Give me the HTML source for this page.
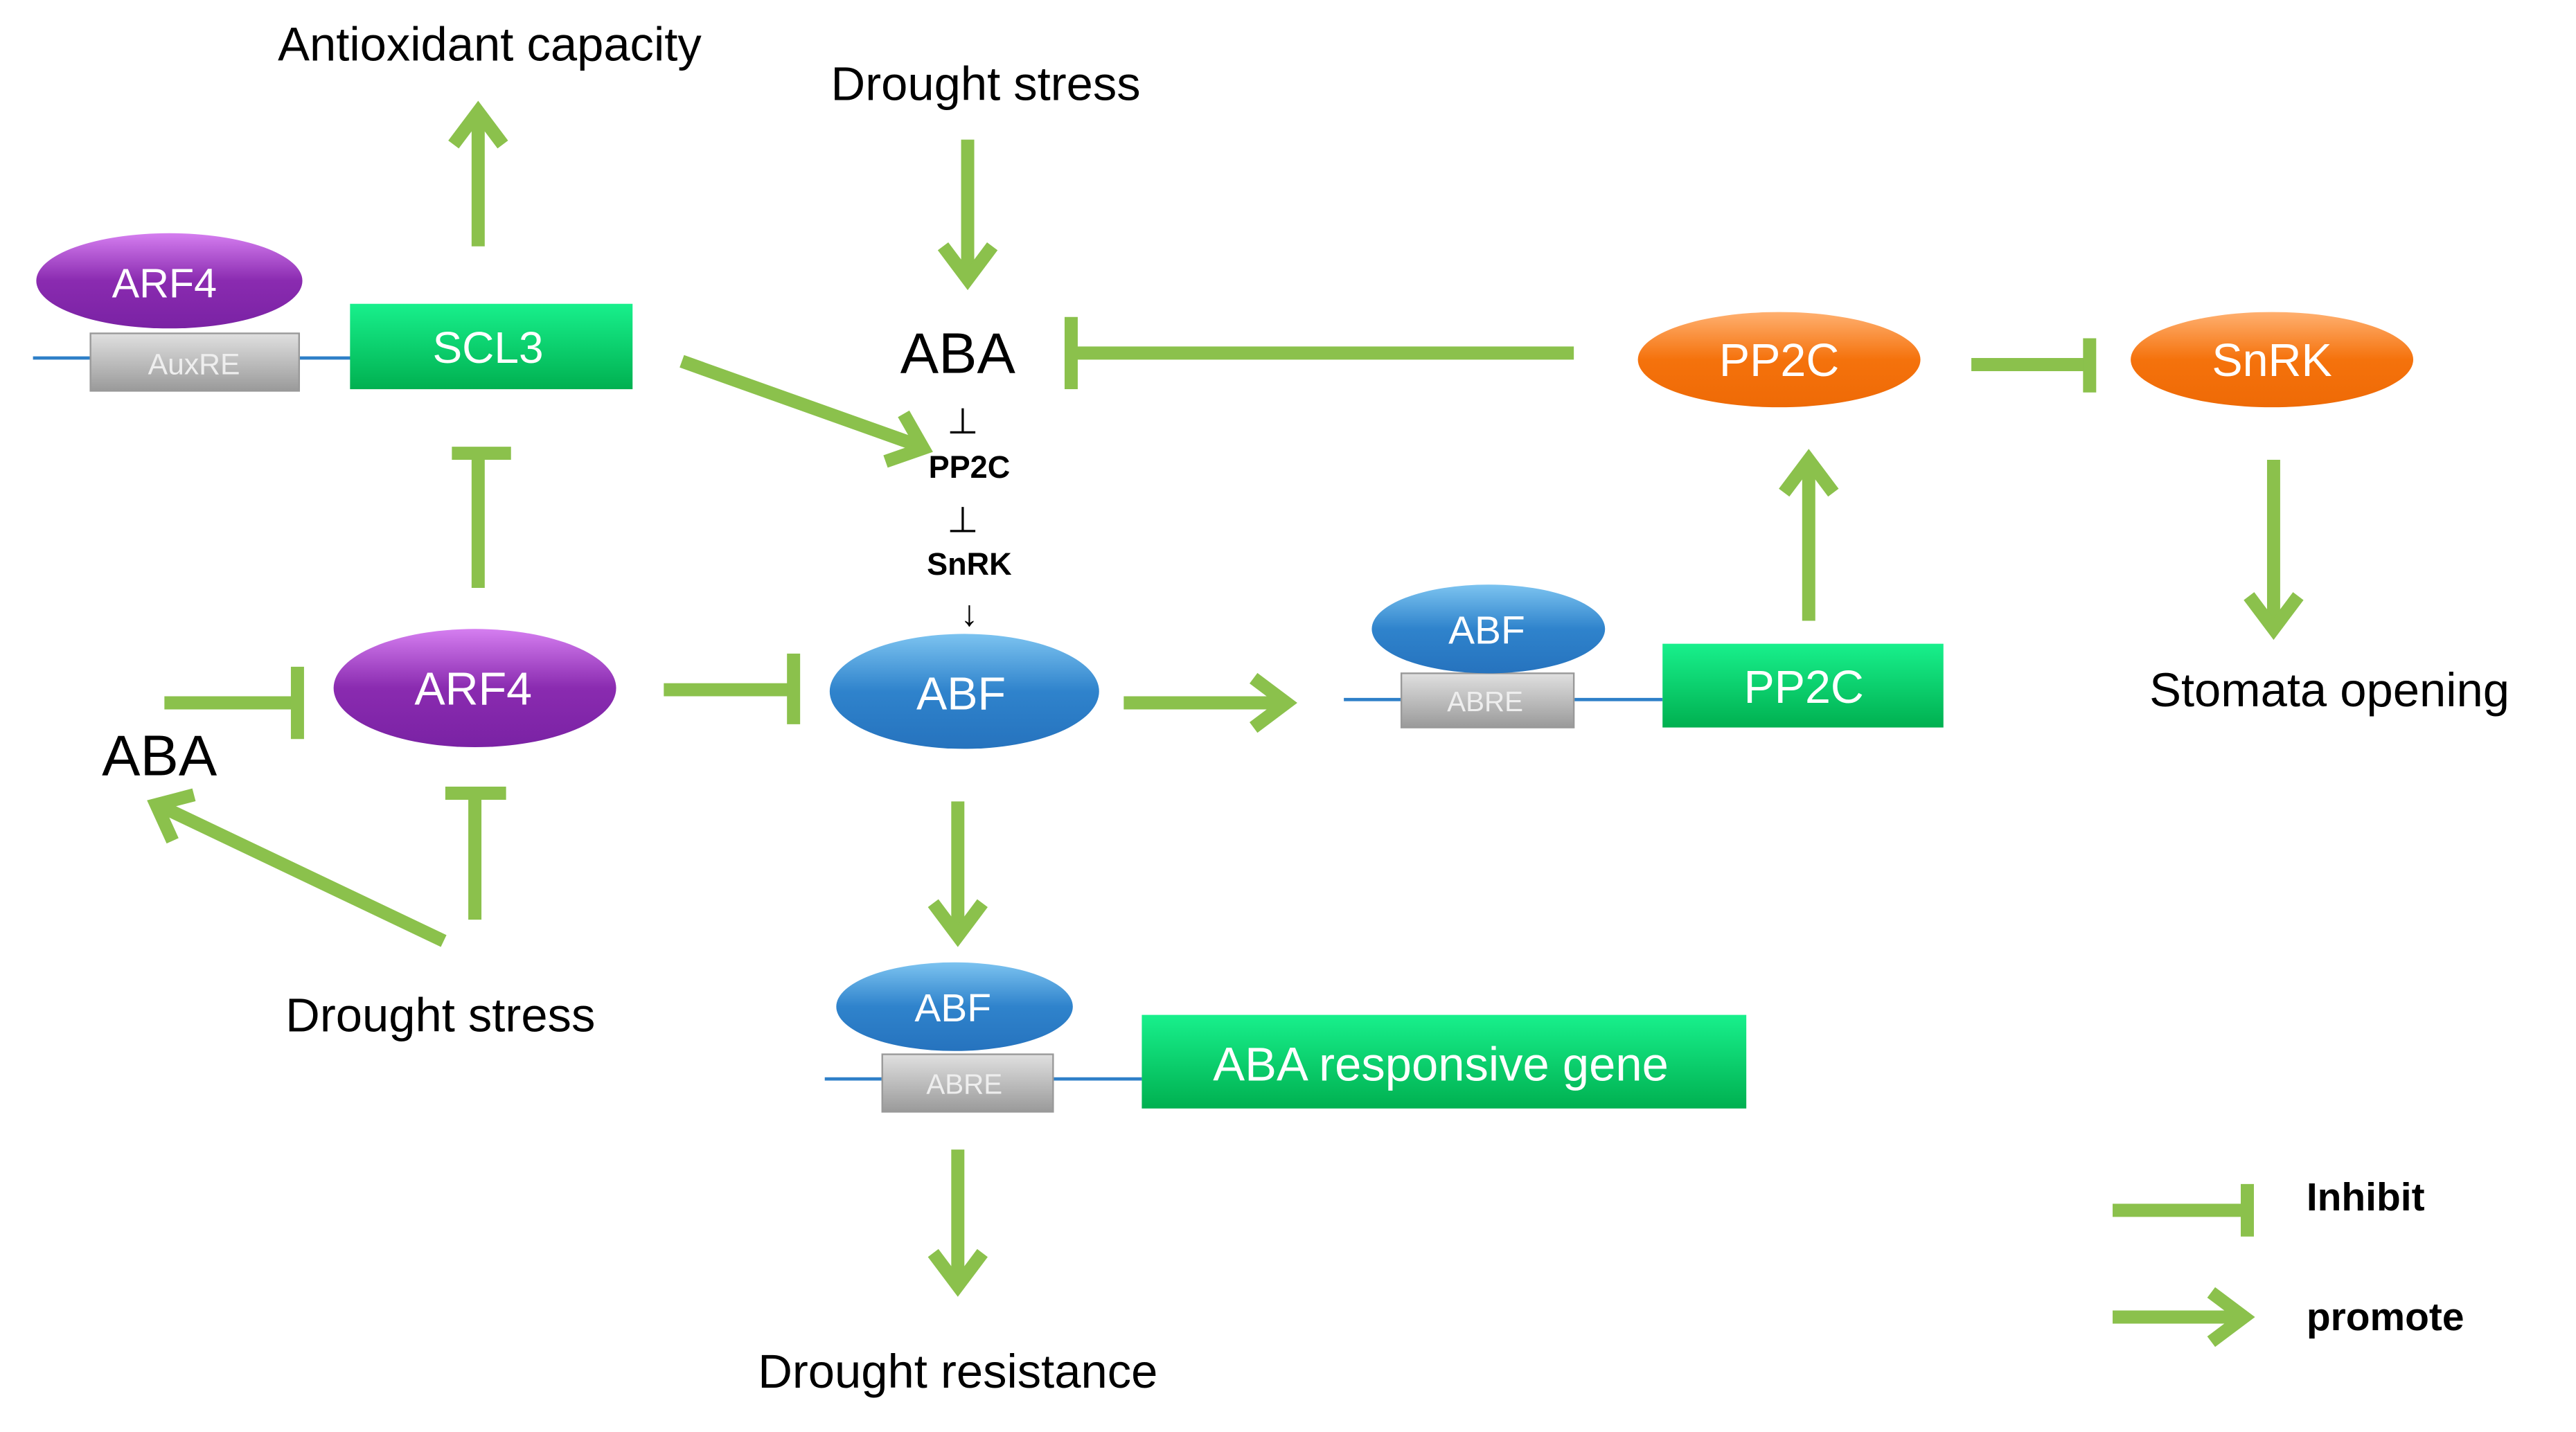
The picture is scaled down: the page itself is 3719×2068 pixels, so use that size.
<!DOCTYPE html>
<html><head><meta charset="utf-8"><style>html,body{margin:0;padding:0;background:#fff}svg{display:block}</style></head>
<body>
<svg width="3719" height="2068" viewBox="0 0 1568 872" xmlns="http://www.w3.org/2000/svg" font-family="Liberation Sans, sans-serif">
<defs>
<linearGradient id="pur" x1="0" y1="0" x2="0" y2="1"><stop offset="0" stop-color="#d57ef0"/><stop offset="0.5" stop-color="#8a2bb0"/><stop offset="1" stop-color="#7a22a4"/></linearGradient>
<linearGradient id="blu" x1="0" y1="0" x2="0" y2="1"><stop offset="0" stop-color="#7cc3f0"/><stop offset="0.5" stop-color="#2f83cc"/><stop offset="1" stop-color="#2673be"/></linearGradient>
<linearGradient id="org" x1="0" y1="0" x2="0" y2="1"><stop offset="0" stop-color="#ffb070"/><stop offset="0.5" stop-color="#f5720c"/><stop offset="1" stop-color="#ee6a06"/></linearGradient>
<linearGradient id="grn" x1="0" y1="0" x2="0" y2="1"><stop offset="0" stop-color="#18f08c"/><stop offset="1" stop-color="#00b050"/></linearGradient>
<linearGradient id="gry" x1="0" y1="0" x2="0" y2="1"><stop offset="0" stop-color="#e0e0e0"/><stop offset="1" stop-color="#9a9a9a"/></linearGradient>
</defs>
<g fill="none" stroke="#8bc14c" stroke-width="8">
<line x1="291" y1="150" x2="291" y2="70"/><polyline points="276,88 291,68 306,88"/>
<line x1="589" y1="85" x2="589" y2="165"/><polyline points="574,150 589,170 604,150"/>
<line x1="415" y1="220" x2="558" y2="271"/><polyline points="550,252 562,273 539,281"/>
<line x1="1384" y1="280" x2="1384" y2="378"/><polyline points="1369,363 1384,383 1399,363"/>
<line x1="684" y1="428" x2="778" y2="428"/><polyline points="763,413 783,428 763,443"/>
<line x1="1101" y1="378" x2="1101" y2="285"/><polyline points="1086,300 1101,280 1116,300"/>
<line x1="270" y1="573" x2="100" y2="492"/><polyline points="105,512 95,490 118,484"/>
<line x1="583" y1="488" x2="583" y2="565"/><polyline points="568,550 583,570 598,550"/>
<line x1="583" y1="700" x2="583" y2="778"/><polyline points="568,763 583,783 598,763"/>
<line x1="1286" y1="802" x2="1362" y2="802"/><polyline points="1346,787 1366,802 1346,817"/>
<line x1="958" y1="215" x2="652" y2="215"/><line x1="652" y1="193" x2="652" y2="237"/>
<line x1="1200" y1="222" x2="1272" y2="222"/><line x1="1272" y1="206" x2="1272" y2="239"/>
<line x1="291" y1="358" x2="291" y2="276"/><line x1="275" y1="276" x2="311" y2="276"/>
<line x1="100" y1="428" x2="181" y2="428"/><line x1="181" y1="406" x2="181" y2="450"/>
<line x1="404" y1="420" x2="483" y2="420"/><line x1="483" y1="398" x2="483" y2="441"/>
<line x1="289" y1="560" x2="289" y2="483"/><line x1="271" y1="483" x2="308" y2="483"/>
<line x1="1286" y1="737" x2="1368" y2="737"/><line x1="1368" y1="721" x2="1368" y2="753"/>
</g>
<g stroke="#2e7fc8" stroke-width="2">
<line x1="20" y1="218" x2="215" y2="218"/>
<line x1="818" y1="426" x2="1012" y2="426"/>
<line x1="502" y1="657" x2="695" y2="657"/>
</g>
<rect x="55" y="203" width="127" height="35" fill="url(#gry)" stroke="#999"/>
<rect x="213" y="185" width="172" height="52" fill="url(#grn)"/>
<rect x="853" y="410" width="105" height="33" fill="url(#gry)" stroke="#999"/>
<rect x="1012" y="392" width="171" height="51" fill="url(#grn)"/>
<rect x="537" y="642" width="104" height="35" fill="url(#gry)" stroke="#999"/>
<rect x="695" y="618" width="368" height="57" fill="url(#grn)"/>
<ellipse cx="103" cy="171" rx="81" ry="29" fill="url(#pur)"/>
<ellipse cx="289" cy="419" rx="86" ry="36" fill="url(#pur)"/>
<ellipse cx="587" cy="421" rx="82" ry="35" fill="url(#blu)"/>
<ellipse cx="906" cy="383" rx="71" ry="27" fill="url(#blu)"/>
<ellipse cx="581" cy="613" rx="72" ry="27" fill="url(#blu)"/>
<ellipse cx="1083" cy="219" rx="86" ry="29" fill="url(#org)"/>
<ellipse cx="1383" cy="219" rx="86" ry="29" fill="url(#org)"/>
<g fill="#fff" text-anchor="middle">
<text x="100" y="181" font-size="25">ARF4</text>
<text x="118" y="228" font-size="18" fill="#eee">AuxRE</text>
<text x="297" y="221" font-size="27">SCL3</text>
<text x="288" y="429" font-size="28">ARF4</text>
<text x="585" y="432" font-size="28">ABF</text>
<text x="905" y="392" font-size="24">ABF</text>
<text x="904" y="433" font-size="17" fill="#eee">ABRE</text>
<text x="1098" y="428" font-size="28">PP2C</text>
<text x="580" y="622" font-size="24">ABF</text>
<text x="587" y="666" font-size="17" fill="#eee">ABRE</text>
<text x="877" y="658" font-size="29">ABA responsive gene</text>
<text x="1083" y="229" font-size="28">PP2C</text>
<text x="1383" y="229" font-size="28">SnRK</text>
</g>
<g fill="#000" text-anchor="middle">
<text x="298" y="37" font-size="29">Antioxidant capacity</text>
<text x="600" y="61" font-size="29">Drought stress</text>
<text x="583" y="227" font-size="35">ABA</text>
<text x="586" y="264" font-size="22">⊥</text>
<text x="590" y="291" font-size="19" font-weight="bold">PP2C</text>
<text x="586" y="324" font-size="22">⊥</text>
<text x="590" y="350" font-size="19" font-weight="bold">SnRK</text>
<text x="590" y="381" font-size="22">↓</text>
<text x="97" y="472" font-size="35">ABA</text>
<text x="268" y="628" font-size="29">Drought stress</text>
<text x="1418" y="430" font-size="29">Stomata opening</text>
<text x="583" y="845" font-size="29">Drought resistance</text>
</g>
<g fill="#000" font-weight="bold" font-size="24">
<text x="1404" y="737">Inhibit</text>
<text x="1404" y="810">promote</text>
</g>
</svg>
</body></html>
